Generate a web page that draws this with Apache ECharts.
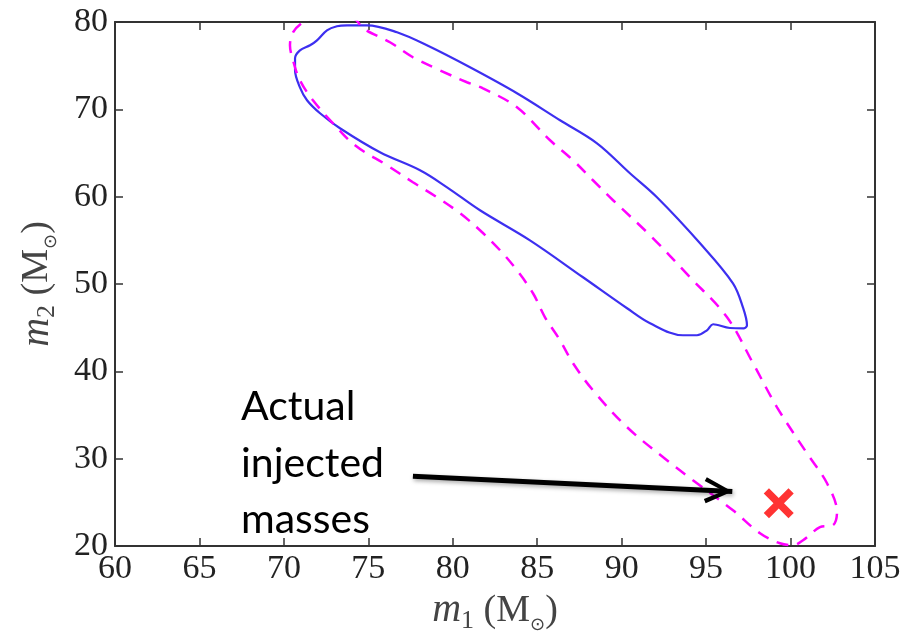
<!DOCTYPE html>
<html>
<head>
<meta charset="utf-8">
<script src="https://cdn.jsdelivr.net/npm/echarts@6/dist/echarts.min.js"></script>
<style>
  html, body { margin: 0; padding: 0; background: #ffffff; }
  #chart { width: 910px; height: 632px; }
</style>
</head>
<body>
<div id="chart"></div>
<script>
// Tick values on each axis
const m1Ticks = [60, 65, 70, 75, 80, 85, 90, 95, 100, 105];
const m2Ticks = [20, 30, 40, 50, 60, 70, 80];

// Solid contour (blue), traced clockwise from the top
const blueM1 = [73.74, 74.92, 76.70, 78.47, 81.02, 83.80, 86.35, 88.54, 90.49, 92.09,
                94.64, 96.59, 97.18, 97.42, 97.24, 96.41, 95.41, 95.05, 94.46, 93.63,
                91.68, 90.32, 87.71, 84.57, 81.61, 79.66, 78.06, 75.69, 73.32, 72.14,
                71.37, 70.95, 70.66, 70.66, 70.95, 71.55, 71.96, 72.55, 73.14, 73.74];
const blueM2 = [79.62, 79.62, 78.82, 77.33, 74.81, 71.84, 68.75, 66.11, 62.68, 59.93,
                54.66, 50.08, 47.33, 45.27, 44.93, 44.96, 45.39, 44.70, 44.13, 44.13,
                45.50, 47.22, 50.77, 55.00, 58.44, 61.07, 63.02, 65.08, 67.83, 69.55,
                71.04, 72.52, 74.47, 75.84, 76.76, 77.33, 77.90, 79.05, 79.51, 79.62];

// Dashed contour (magenta), traced clockwise from the top
const pinkM1 = [72.73, 74.21, 74.68, 76.28, 77.64, 79.24, 80.84, 81.79, 83.80, 85.76,
                87.12, 88.30, 89.49, 91.68, 94.05, 96.24, 97.78, 99.20, 100.97, 102.16,
                102.75, 102.51, 101.74, 100.74, 100.14, 99.37, 98.19, 96.59, 94.22, 92.68,
                90.32, 88.30, 87.12, 86.35, 85.46, 84.75, 83.80, 82.80, 81.61, 80.43,
                79.07, 77.64, 76.11, 74.21, 72.91, 71.72, 70.95, 70.54, 70.36, 70.54,
                71.13, 71.84, 72.73];
const pinkM2 = [80.88, 80.31, 79.28, 77.68, 75.96, 74.47, 73.10, 72.41, 70.23, 66.46,
                64.17, 61.88, 59.59, 55.58, 50.77, 46.19, 40.92, 35.88, 30.62, 27.18,
                23.86, 22.38, 22.15, 20.66, 20.08, 20.31, 21.46, 24.09, 27.53, 29.82,
                33.60, 37.83, 40.92, 43.56, 46.19, 48.94, 51.57, 53.86, 56.15, 58.10,
                59.93, 61.65, 63.59, 65.88, 68.40, 71.04, 73.32, 75.61, 77.33, 78.82,
                79.97, 80.54, 80.88];

// Injected masses (m1, m2)
const injected = [99.3, 24.9];

// Annotation arrow: start and end in (m1, m2)
const arrowFrom = [77.64, 27.98];
const arrowTo = [96.55, 26.25];
const noteLines = ['Actual', 'injected', 'masses'];

const pairs = (xs, ys) => xs.map((x, i) => [x, ys[i]]);

const serif = '"Liberation Serif", "DejaVu Serif", serif';
const axisColor = '#333333';
const tickStyle = { color: axisColor, width: 1.5 };

const nameRich = {
  i: { fontFamily: serif, fontStyle: 'italic', fontSize: 40, color: '#444', lineHeight: 46 },
  s: { fontFamily: serif, fontSize: 26, color: '#444', verticalAlign: 'bottom', lineHeight: 30 },
  r: { fontFamily: serif, fontSize: 38, color: '#444', lineHeight: 46 },
  o: { fontFamily: '"DejaVu Sans", sans-serif', fontSize: 18, color: '#444', verticalAlign: 'bottom', lineHeight: 22 }
};

const xStep = m1Ticks[1] - m1Ticks[0];
const yStep = m2Ticks[1] - m2Ticks[0];

const baseAxis = {
  type: 'value',
  axisLine: { show: true, onZero: false, lineStyle: { color: axisColor, width: 2 } },
  axisTick: { show: true, inside: true, length: 8, lineStyle: tickStyle },
  splitLine: { show: false }
};

const chartEl = document.getElementById('chart');
const chart = echarts.init(chartEl, null, { renderer: 'canvas' });

// Chevron arrowhead pointing up; the spacer subpath puts its tip at the symbol centre
const chevron = 'path://M0,0 L11,22 L7.6,23.6 L0,7.4 L-7.6,23.6 L-11,22 Z M0,-23.6 L0.01,-23.6 L0,-23.59 Z';
const crossPath = 'path://M3.5,0 L10,6.5 L16.5,0 L20,3.5 L13.5,10 L20,16.5 L16.5,20 L10,13.5 L3.5,20 L0,16.5 L6.5,10 L0,3.5 Z';

chart.setOption({
  animation: false,
  backgroundColor: '#ffffff',
  grid: { left: 115, right: 35, top: 22, bottom: 86, outerBoundsMode: 'none' },
  xAxis: [
    Object.assign({}, baseAxis, {
      position: 'bottom',
      min: m1Ticks[0], max: m1Ticks[m1Ticks.length - 1], interval: xStep,
      axisLabel: { show: true, fontFamily: serif, fontSize: 34, color: '#222', margin: 6 },
      name: '{i|m}{s|1}{r| (M}{o|⊙}{r|)}',
      nameLocation: 'middle',
      nameGap: 40,
      nameTextStyle: { rich: nameRich }
    }),
    Object.assign({}, baseAxis, {
      position: 'top',
      min: m1Ticks[0], max: m1Ticks[m1Ticks.length - 1], interval: xStep,
      axisLabel: { show: false }
    })
  ],
  yAxis: [
    Object.assign({}, baseAxis, {
      position: 'left',
      min: m2Ticks[0], max: m2Ticks[m2Ticks.length - 1], interval: yStep,
      axisLabel: { show: true, fontFamily: serif, fontSize: 34, color: '#222', margin: 7 },
      name: '{i|m}{s|2}{r| (M}{o|⊙}{r|)}',
      nameLocation: 'middle',
      nameGap: 55,
      nameRotate: 90,
      nameTextStyle: { rich: nameRich }
    }),
    Object.assign({}, baseAxis, {
      position: 'right',
      min: m2Ticks[0], max: m2Ticks[m2Ticks.length - 1], interval: yStep,
      axisLabel: { show: false }
    })
  ],
  series: [
    {
      name: 'solid contour',
      type: 'line',
      data: pairs(blueM1, blueM2),
      showSymbol: false,
      symbol: 'none',
      smooth: 0.35,
      clip: true,
      lineStyle: { color: '#3d2ff0', width: 2.2 },
      z: 2
    },
    {
      name: 'dashed contour',
      type: 'line',
      data: pairs(pinkM1, pinkM2),
      showSymbol: false,
      symbol: 'none',
      smooth: 0.35,
      clip: true,
      lineStyle: { color: '#ff00ff', width: 2.5, type: [12, 9] },
      z: 3
    },
    {
      name: 'injected',
      type: 'scatter',
      data: [injected],
      symbol: crossPath,
      symbolSize: 30,
      itemStyle: { color: '#ff0000' },
      z: 5,
      markLine: {
        silent: true,
        symbol: ['none', chevron],
        symbolSize: [26, 56],
        label: { show: false },
        lineStyle: {
          color: '#000000', width: 5, type: 'solid',
          shadowBlur: 4, shadowColor: 'rgba(0,0,0,0.35)', shadowOffsetX: 1, shadowOffsetY: 2
        },
        itemStyle: { color: '#000000' },
        data: [[{ coord: arrowFrom }, { coord: arrowTo }]]
      }
    }
  ],
  graphic: [
    {
      type: 'text',
      left: 241,
      top: 379,
      z: 10,
      style: {
        text: noteLines.join('\n'),
        fontFamily: 'Lato, "Open Sans", sans-serif',
        fontSize: 41,
        lineHeight: 56.5,
        fill: '#000000'
      }
    }
  ]
});
</script>
</body>
</html>
